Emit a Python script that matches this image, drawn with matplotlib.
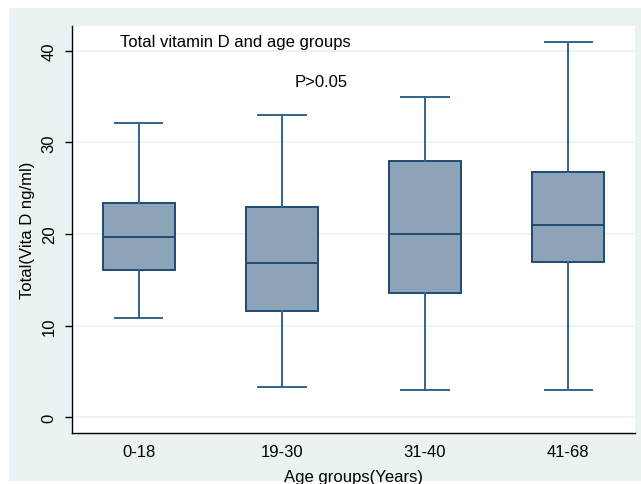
import matplotlib
matplotlib.use("Agg")
import matplotlib.pyplot as plt
from matplotlib.patches import Rectangle

plt.rcParams['font.family'] = ['Liberation Sans', 'DejaVu Sans']

categories = ["0-18", "19-30", "31-40", "41-68"]
whislo = [10.8, 3.3, 3.0, 3.0]
q1 = [16.1, 11.6, 13.6, 17.0]
med = [19.7, 16.8, 20.0, 21.0]
q3 = [23.4, 23.0, 28.0, 26.8]
whishi = [32.1, 33.0, 35.0, 41.0]
yticks = [0, 10, 20, 30, 40]

W, H = 641, 485
fig = plt.figure(figsize=(W / 100, H / 100), dpi=100, facecolor="white")
bg = "#EAF2F3"
fig.patches.append(Rectangle((9 / W, 1 - 482 / H), (W - 9) / W, (482 - 9) / H,
                             transform=fig.transFigure, facecolor=bg,
                             edgecolor="none", zorder=-10))

ax = fig.add_axes([72 / W, 1 - 434 / H, (635 - 72) / W, (434 - 26.7) / H])
ax.set_zorder(5)
ax.set_facecolor("white")

stats = []
for i, c in enumerate(categories):
    stats.append(dict(label=c, whislo=whislo[i], q1=q1[i], med=med[i],
                      q3=q3[i], whishi=whishi[i], fliers=[]))

edge = "#1f4a72"
wcol = "#33628a"
ax.bxp(stats, positions=range(1, len(categories) + 1), widths=0.5,
       patch_artist=True, showfliers=False,
       boxprops=dict(facecolor="#8DA3B8", edgecolor=edge, linewidth=1.4),
       medianprops=dict(color=edge, linewidth=1.4),
       whiskerprops=dict(color=wcol, linewidth=1.4),
       capprops=dict(color=wcol, linewidth=1.4),
       capwidths=0.33)

ax.set_xlim(0.533, 4.467)
ax.set_ylim(-1.70, 42.73)
ax.set_yticks(yticks)
ax.set_yticklabels([str(t) for t in yticks], rotation=90, va="center", fontsize=12)
ax.set_xticks(range(1, len(categories) + 1))
ax.set_xticklabels(categories, fontsize=12)
ax.tick_params(axis="y", length=5, width=1, pad=6)
ax.tick_params(axis="x", length=0, pad=8)
ax.yaxis.grid(True, color=bg, linewidth=1.2)
ax.set_axisbelow(True)
for s in ["top", "right"]:
    ax.spines[s].set_visible(False)
for s in ["left", "bottom"]:
    ax.spines[s].set_color("black")
    ax.spines[s].set_linewidth(1)

ax.set_xlabel("Age groups(Years)", fontsize=12, labelpad=7)
ax.set_ylabel("Total(Vita D ng/ml)", fontsize=12, labelpad=5)

ax.text(0.0853, 0.960, "Total vitamin D and age groups", transform=ax.transAxes,
        fontsize=12, ha="left", va="center")
ax.text(0.396, 0.862, "P>0.05", transform=ax.transAxes,
        fontsize=12, ha="left", va="center")

fig.savefig("out.png", dpi=100, facecolor="white")
